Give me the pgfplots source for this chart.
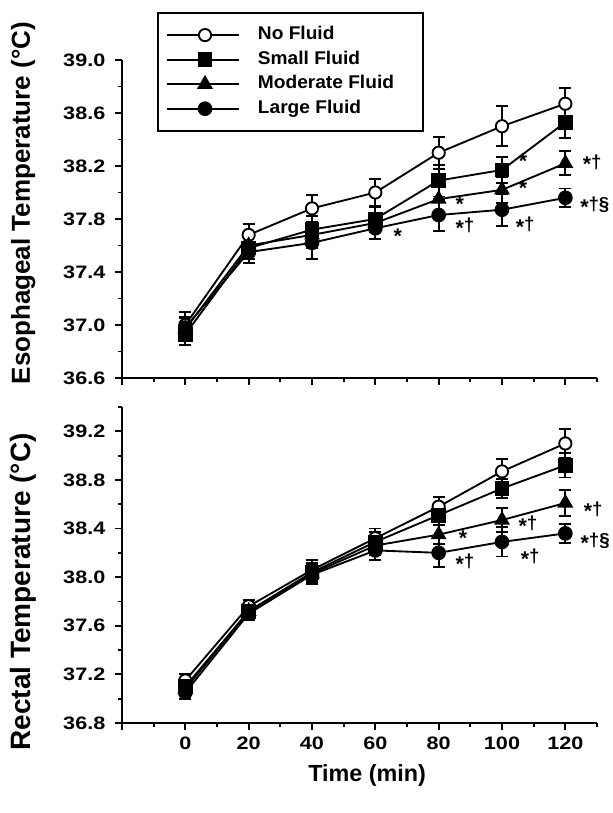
\documentclass[border=0pt]{standalone}
\usepackage{fontspec}
\setmainfont{Liberation Sans}
\newfontfamily\widefont[FakeStretch=1.2]{Liberation Sans}
\newfontfamily\legfont[FakeStretch=1.04]{Liberation Sans}
\usepackage{pgfplots}
\usepackage{pgfplotstable}
\pgfplotsset{compat=1.18}

% t, mean and SD for each group
\pgfplotstableread{
t   no    noe   sm    sme   mo    moe   lg    lge
0   37.00 0.10  36.93 0.08  36.97 0.08  36.98 0.08
20  37.68 0.08  37.58 0.08  37.60 0.08  37.55 0.08
40  37.88 0.10  37.72 0.10  37.68 0.10  37.62 0.12
60  38.00 0.10  37.80 0.10  37.77 0.12  37.73 0.08
80  38.30 0.12  38.09 0.12  37.95 0.10  37.83 0.12
100 38.50 0.15  38.17 0.10  38.02 0.10  37.87 0.12
120 38.67 0.12  38.53 0.12  38.22 0.09  37.96 0.07
}\esoph

\pgfplotstableread{
t   no    noe   sm    sme   mo    moe   lg    lge
0   37.15 0.05  37.10 0.05  37.08 0.05  37.05 0.05
20  37.76 0.05  37.72 0.05  37.72 0.05  37.70 0.05
40  38.06 0.08  38.04 0.08  38.03 0.08  38.02 0.08
60  38.32 0.08  38.29 0.08  38.26 0.08  38.22 0.08
80  38.58 0.08  38.51 0.08  38.35 0.08  38.20 0.12
100 38.87 0.10  38.73 0.08  38.47 0.10  38.29 0.12
120 39.10 0.12  38.92 0.10  38.61 0.11  38.36 0.08
}\rectal

\tikzset{ann/.style={font=\bfseries\fontsize{14}{14}\selectfont, inner sep=0pt}}
\newcommand{\st}{\raisebox{-0.2em}{\fontsize{16}{16}\selectfont *}}

\pgfplotsset{
  panel/.style={
    scale only axis, width=356.25pt, clip=false,
    xmin=-20, xmax=130,
    axis x line=bottom, axis y line=left,
    axis line style={-, line width=1.6pt},
    tick align=outside, tick style={line width=1.4pt, black},
    major tick length=5pt, minor tick length=3pt,
    xtick={-20,0,20,...,120}, minor xtick={-10,10,...,130},
    ticklabel style={font=\widefont\bfseries\fontsize{13.5}{13.5}\selectfont},
    xticklabel style={yshift=-2pt},
    /pgf/number format/assume math mode=true,
    yticklabel style={xshift=-4pt, /pgf/number format/.cd, fixed, fixed zerofill, precision=1},
    ylabel style={font=\bfseries\fontsize{21}{21}\selectfont, anchor=center},
    every axis plot/.append style={line width=1.4pt, black,
      error bars/y dir=both, error bars/y explicit,
      error bars/error bar style={line width=1.4pt},
      error bars/error mark options={rotate=90, mark size=4.5pt, line width=1.4pt}},
  },
  nof/.style={mark=*, mark size=4.6pt, mark options={fill=white, line width=1.4pt}},
  smf/.style={mark=square*, mark size=4.8pt, mark options={fill=black}},
  mof/.style={mark=triangle*, mark size=5.5pt, mark options={fill=black}},
  lgf/.style={mark=*, mark size=4.8pt, mark options={fill=black}},
}

\begin{document}
\begin{tikzpicture}
\path[use as bounding box] (0,0) rectangle (459pt,609.75pt);

\begin{axis}[panel,
  at={(91.5pt,326.25pt)}, anchor=south west,
  height=238.5pt,
  ymin=36.6, ymax=39.0,
  ytick={36.6,37.0,...,39.0}, minor ytick={36.8,37.2,...,38.8},
  xticklabels={},
  ylabel={Esophageal Temperature (°C)},
  ylabel style={at={(axis description cs:-0.208,0.55)},
    font=\bfseries\fontsize{19.5}{19.5}\selectfont},
  legend style={at={(axis description cs:0.0737,1.1508)}, anchor=north west,
    draw=black, line width=1.6pt, inner xsep=6pt, inner ysep=9pt,
    font=\legfont\bfseries\fontsize{13.8}{13.8}\selectfont, row sep=3.4pt, column sep=13.5pt,
    nodes={inner sep=0pt, text height=11pt, text depth=4pt}},
  legend cell align=left,
  legend image code/.code={
    \draw[#1, mark=none] (0pt,0pt) -- (54pt,0pt);
    \path[#1, only marks] plot coordinates {(28.5pt,0pt)};
  },
]
\addplot[nof] table[x=t, y=no, y error=noe] {\esoph};
\addlegendentry{\makebox[118pt][l]{No Fluid}}
\addplot[smf] table[x=t, y=sm, y error=sme] {\esoph};
\addlegendentry{\makebox[118pt][l]{Small Fluid}}
\addplot[mof] table[x=t, y=mo, y error=moe] {\esoph};
\addlegendentry{\makebox[118pt][l]{Moderate Fluid}}
\addplot[lgf] table[x=t, y=lg, y error=lge] {\esoph};
\addlegendentry{\makebox[118pt][l]{Large Fluid}}

\node[ann] at (axis cs:67.1,37.67) {\st};
\node[ann] at (axis cs:86.7,37.91) {\st};
\node[ann] at (axis cs:88.3,37.74) {\st†};
\node[ann] at (axis cs:106.6,38.24) {\st};
\node[ann] at (axis cs:106.6,38.03) {\st};
\node[ann] at (axis cs:107.3,37.75) {\st†};
\node[ann] at (axis cs:128.5,38.22) {\st†};
\node[ann] at (axis cs:129.3,37.90) {\st†§};
\end{axis}

\begin{axis}[panel,
  at={(91.5pt,67.5pt)}, anchor=south west,
  height=237pt,
  ymin=36.8, ymax=39.4,
  ytick={36.8,37.2,...,39.2}, minor ytick={37.0,37.4,...,39.4},
  xticklabels={,0,20,40,60,80,100,120},
  ylabel={Rectal Temperature (°C)},
  ylabel style={at={(axis description cs:-0.208,0.415)}},
  xlabel={Time (min)},
  xlabel style={font=\bfseries\fontsize{17.5}{17.5}\selectfont,
    at={(axis description cs:0.516,-0.165)}, anchor=center},
]
\addplot[nof] table[x=t, y=no, y error=noe] {\rectal};
\addplot[smf] table[x=t, y=sm, y error=sme] {\rectal};
\addplot[mof] table[x=t, y=mo, y error=moe] {\rectal};
\addplot[lgf] table[x=t, y=lg, y error=lge] {\rectal};

\node[ann] at (axis cs:87.7,38.32) {\st};
\node[ann] at (axis cs:88.3,38.12) {\st†};
\node[ann] at (axis cs:108.2,38.43) {\st†};
\node[ann] at (axis cs:108.9,38.16) {\st†};
\node[ann] at (axis cs:128.8,38.55) {\st†};
\node[ann] at (axis cs:129.4,38.29) {\st†§};
\end{axis}
\end{tikzpicture}
\end{document}
